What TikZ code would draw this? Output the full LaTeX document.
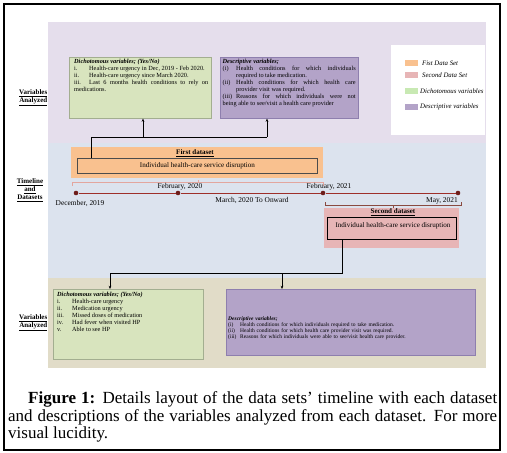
\documentclass[tikz,border=0pt]{standalone}
\usepackage{fontspec}
\setmainfont{Liberation Serif}
\usetikzlibrary{arrows.meta}
\definecolor{bgtop}{HTML}{E5DEEC}
\definecolor{bgmid}{HTML}{DCE3EE}
\definecolor{bgbot}{HTML}{E1DCC8}
\definecolor{grn}{HTML}{D8E4BE}
\definecolor{grnb}{HTML}{A3AE90}
\definecolor{prp}{HTML}{B3A3C8}
\definecolor{prpb}{HTML}{8E7FAE}
\definecolor{org}{HTML}{F9C18F}
\definecolor{pnk}{HTML}{E7B5B6}
\definecolor{tlc}{HTML}{9E2F2A}
\definecolor{dotc}{HTML}{6E1D1A}
\definecolor{brk1}{HTML}{E3A69E}
\definecolor{brk2}{HTML}{8A4A40}
\newcommand{\nohy}{\hyphenpenalty=10000 \exhyphenpenalty=10000 \lefthyphenmin=62 \righthyphenmin=62 }
\newcommand{\myitem}[3]{\par\noindent\hangindent=#1\hangafter=1\makebox[#1][l]{#2}#3}
\tikzset{
  varbox/.style={anchor=north west, inner sep=0pt, line width=0.6pt},
  txt/.style={anchor=north west, inner sep=0pt, font=\fontsize{6.3}{7}\selectfont, align=justify},
  lab/.style={font=\fontsize{7}{8}\selectfont\bfseries, align=right, inner sep=0pt},
  tltxt/.style={font=\fontsize{7.4}{8}\selectfont, inner sep=0pt},
  dotn/.style={circle, fill=dotc, inner sep=0pt, minimum size=4.6pt},
  arr/.style={-{Stealth[length=3.2pt,width=2.6pt]}, line width=0.6pt},
  con/.style={line width=0.6pt},
  sw/.style={anchor=west, inner sep=0pt, minimum width=13pt, minimum height=6.5pt},
  legt/.style={anchor=west, inner sep=0pt, font=\fontsize{6.8}{7}\selectfont\itshape},
  dstitle/.style={font=\fontsize{7}{8}\selectfont\bfseries, inner sep=0pt},
  dstext/.style={font=\fontsize{7.1}{8}\selectfont, inner sep=0pt},
  captxt/.style={anchor=base west, inner sep=0pt, font=\fontsize{17}{18}\selectfont},
}
\begin{document}
\begin{tikzpicture}[x=1pt,y=-1pt]
\useasboundingbox (0,0) rectangle (507,453);
\fill[white] (0,0) rectangle (507,453);
% bands
\fill[bgtop] (48,22) rectangle (486,143);
\fill[bgmid] (48,143) rectangle (486,278);
\fill[bgbot] (48,278) rectangle (486,368);
% row labels
\node[lab, anchor=east] (l1) at (47.5,98) {\underline{Variables}\\\underline{Analyzed}};
\node[lab, align=center] (l2) at (30,190) {\underline{Timeline}\\\underline{and}\\\underline{Datasets}};
\node[lab, anchor=east] (l3) at (47.5,323) {\underline{Variables}\\\underline{Analyzed}};
% top boxes
\node[varbox, fill=grn, draw=grnb, minimum width=142pt, minimum height=61pt] (g1) at (69,57) {};
\node[txt, text width=134pt] (g1t) at (74,58.5) {\nohy
\textbf{\textit{Dichotomous variables; (Yes/No)}}
\myitem{15pt}{i.}{Health-care urgency in Dec, 2019 - Feb 2020.}
\myitem{15pt}{ii.}{Health-care urgency since March 2020.}
\myitem{15pt}{iii.}{Last 6 months health conditions to rely on medications.}};
\node[varbox, fill=prp, draw=prpb, minimum width=138pt, minimum height=61pt] (p1) at (220,57) {};
\node[txt, text width=133pt] (p1t) at (222.5,58.5) {\nohy
\textbf{\textit{Descriptive variables;}}
\myitem{13.5pt}{(i)}{Health conditions for which individuals required to take medication.}
\myitem{13.5pt}{(ii)}{Health conditions for which health care\linebreak provider visit was required.}
\myitem{13.5pt}{(iii)}{Reasons for which individuals were not\linebreak being able to see/visit a health care provider}};
% legend
\node[anchor=north west, fill=white, minimum width=94pt, minimum height=90pt, inner sep=0pt] (leg) at (391,45) {};
\node[sw, fill=org] (s1) at (405,63) {};
\node[sw, fill=pnk] (s2) at (405,75) {};
\node[sw, fill=grn!90!green!90!white] (s3) at (405,91) {};
\node[sw, fill=prp] (s4) at (405,107) {};
\node[legt] (t1) at (422,63) {Fist Data Set};
\node[legt] (t2) at (422,75) {Second Data Set};
\node[legt] (t3) at (420,91) {Dichotomous variables};
\node[legt] (t4) at (420,107) {Descriptive variables};
% first dataset
\node[varbox, fill=org, minimum width=252pt, minimum height=31pt] (d1box) at (71,147) {};
\node[dstitle] (d1t) at (195,153) {\underline{First dataset}};
\node[varbox, draw=black!70, line width=0.8pt, minimum width=240pt, minimum height=15pt] (in1) at (77,158) {};
\node[dstext] (in1t) at (in1.center) {Individual health-care service disruption};
% connectors top
\coordinate (j1) at (91,137);
\coordinate (jg) at (143,137);
\coordinate (jp) at (267,137);
\draw[con] (in1.north -| j1) -- (j1) -- (jp);
\draw[arr] (jg) -- (g1.south -| jg);
\draw[arr] (jp) -- (p1.south -| jp);
% bracket 1
\draw[brk1, line width=0.6pt] (72,186) -- (72,182.5) -- (323,182.5) -- (323,186);
\draw[brk1, line width=0.6pt] (198,182.5) -- (198,179.5);
% timeline
\node[dotn] (e1) at (76,193) {};
\node[dotn] (e2) at (178,193) {};
\node[dotn] (e3) at (323,193) {};
\node[dotn] (e4) at (458,193) {};
\draw[tlc, line width=0.9pt] (e1) -- (e2) -- (e3) -- (e4);
\node[tltxt] (x1) at (80,203.5) {December, 2019};
\node[tltxt] (x2) at (180,187) {February, 2020};
\node[tltxt] (x3) at (252,200) {March, 2020 To Onward};
\node[tltxt] (x4) at (329,187) {February, 2021};
\node[tltxt] (x5) at (442,201) {May, 2021};
% bracket 2
\draw[brk2, line width=0.6pt] (325,202) -- (325,205) -- (461,205) -- (461,202);
\draw[brk2, line width=0.6pt] (393,205) -- (393,207.5);
% second dataset
\node[varbox, fill=pnk, minimum width=135pt, minimum height=40pt] (d2box) at (324,208) {};
\node[dstitle] (d2t) at (393,212.5) {\underline{Second dataset}};
\node[varbox, draw=black, line width=1pt, minimum width=129pt, minimum height=22pt] (in2) at (327,217) {};
\node[dstext] (in2t) at (393,226) {Individual health-care service disruption};
% connectors bottom
\coordinate (k1) at (342,273);
\coordinate (kg) at (110,273);
\coordinate (kp) at (282,273);
% bottom boxes
\node[varbox, fill=grn, draw=grnb, minimum width=150pt, minimum height=70pt] (g2) at (53,289) {};
\node[txt, text width=140pt] (g2t) at (57,292) {\nohy
\textbf{\textit{Dichotomous variables; (Yes/No)}}
\myitem{15pt}{i.}{Health-care urgency}
\myitem{15pt}{ii.}{Medication urgency}
\myitem{15pt}{iii.}{Missed doses of medication}
\myitem{15pt}{iv.}{Had fever when visited HP}
\myitem{15pt}{v.}{Able to see HP}};
\node[varbox, fill=prp, draw=prpb, minimum width=249pt, minimum height=66pt] (p2) at (226,289) {};
\node[txt, text width=240pt, font=\fontsize{5.5}{6.1}\selectfont, align=left] (p2t) at (228,316) {\nohy
\textbf{\textit{Descriptive variables;}}
\myitem{12pt}{(i)}{Health conditions for which individuals required to take medication.}
\myitem{12pt}{(ii)}{Health conditions for which health care provider visit was required.}
\myitem{12pt}{(iii)}{Reasons for which individuals were able to see/visit health care provider.}};
\draw[con] (in2.south -| k1) -- (k1) -- (kg);
\draw[arr] (kg) -- (g2.north -| kg);
\draw[arr] (kp) -- (p2.north -| kp);
% caption
\node[captxt] (c1) at (28,403) {\makebox[469pt][s]{\textbf{Figure 1:} Details layout of the data sets’ timeline with each dataset}};
\node[captxt] (c2) at (8,421.5) {\makebox[489pt][s]{and descriptions of the variables analyzed from each dataset. For more}};
\node[captxt] (c3) at (8,438) {visual lucidity.};
% frame
\draw[line width=1.2pt] (4,4) rectangle (500,450);
\end{tikzpicture}
\end{document}
